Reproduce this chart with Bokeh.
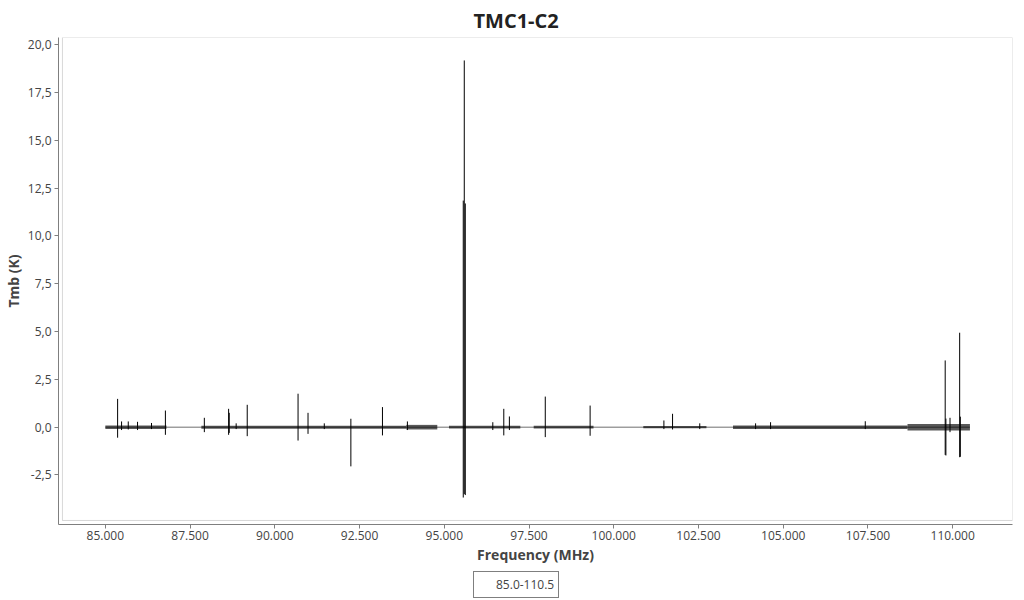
from bokeh.plotting import figure
from bokeh.layouts import column
from bokeh.models import (BoxAnnotation, FixedTicker, Range1d, Title, Legend, LegendItem)
from bokeh.embed import file_html
from bokeh.resources import INLINE

# ---------------- data ----------------
title_text = "TMC1-C2"
series_name = "85.0-110.5"

# observed frequency windows (MHz) and the typical noise envelope (K)
seg_start = [85000, 87833, 93880, 95139, 97638, 100872, 103519, 108667]
seg_end   = [86803, 93880, 94794, 97244, 99403, 102735, 108667, 110509]
seg_noise = [0.09, 0.08, 0.12, 0.07, 0.07, 0.06, 0.09, 0.17]

# spectral lines: frequency (MHz), peak (K), trough (K)
line_freq = [85362, 85479, 85676, 85950, 86362, 86772, 87921, 88637, 88655,
             88860, 89186, 90686, 90980, 91460, 92244, 93176, 93912,
             95560, 95590, 95620, 96432, 96756, 96921, 97980, 99303,
             101480, 101735, 102538, 104185, 104627, 107421,
             109779, 109800, 109921, 110206, 110226]
line_max  = [1.48, 0.30, 0.30, 0.28, 0.22, 0.87, 0.49, 0.96, 0.75,
             0.20, 1.17, 1.75, 0.75, 0.20, 0.44, 1.05, 0.30,
             11.85, 19.18, 11.70, 0.26, 0.96, 0.56, 1.60, 1.13,
             0.35, 0.70, 0.20, 0.20, 0.26, 0.31,
             3.49, 0.45, 0.49, 4.94, 0.55]
line_min  = [-0.55, -0.15, -0.12, -0.15, -0.10, -0.40, -0.26, -0.40, -0.30,
             -0.10, -0.47, -0.70, -0.35, -0.10, -2.05, -0.43, -0.15,
             -3.68, -3.50, -3.55, -0.15, -0.43, -0.15, -0.52, -0.45,
             -0.10, -0.12, -0.10, -0.10, -0.10, -0.10,
             -1.45, -1.48, -0.26, -1.57, -1.55]

x_ticks = [85000, 87500, 90000, 92500, 95000, 97500, 100000, 102500, 105000, 107500, 110000]
x_tick_labels = ["85.000", "87.500", "90.000", "92.500", "95.000", "97.500",
                 "100.000", "102.500", "105.000", "107.500", "110.000"]
y_ticks = [-2.5, 0, 2.5, 5, 7.5, 10, 12.5, 15, 17.5, 20]
y_tick_labels = ["-2,5", "0,0", "2,5", "5,0", "7,5", "10,0", "12,5", "15,0", "17,5", "20,0"]

# ---------------- styling ----------------
FONT = "Open Sans"
GRAY = "#7f7f7f"
TXT = "#444444"
LEG_H = 30

p = figure(width=1016, height=600 - LEG_H, output_backend="svg", toolbar_location=None,
           x_range=Range1d(83618, 111765), y_range=Range1d(-5.09, 20.38),
           min_border_left=55, min_border_right=4, min_border_top=37,
           min_border_bottom=76 - LEG_H, background_fill_color="white",
           border_fill_color="white")
p.title = Title(text=title_text, align="left", offset=415, text_font=FONT,
                text_font_size="20px", text_font_style="bold", text_color="#222222",
                standoff=8)
p.outline_line_color = None
p.xgrid.grid_line_color = None
p.ygrid.grid_line_color = None

# inner plot box (offset from the axis lines)
p.add_layout(BoxAnnotation(left=83735, bottom=-4.88, fill_color=None,
                           line_color=GRAY, line_width=1))

# baseline (trace across gaps)
base = p.line([min(seg_start), max(seg_end)], [0, 0], line_color="#6e6e6e", line_width=1)

# noise envelopes of the observed windows
p.quad(left=seg_start, right=seg_end, bottom=[-n for n in seg_noise], top=seg_noise,
       fill_color="black", fill_alpha=0.65, line_color=None)

# spectral lines
p.segment(x0=line_freq, y0=line_min, x1=line_freq, y1=line_max,
          line_color="black", line_width=1)

# axes
for ax in (p.xaxis[0], p.yaxis[0]):
    ax.axis_line_color = GRAY
    ax.axis_line_width = 1
    ax.major_tick_line_color = GRAY
    ax.major_tick_out = 4
    ax.major_tick_in = 0
    ax.minor_tick_line_color = None
    ax.major_label_text_font = FONT
    ax.major_label_text_font_size = "12px"
    ax.major_label_text_color = TXT
    ax.axis_label_text_font = FONT
    ax.axis_label_text_font_size = "14px"
    ax.axis_label_text_font_style = "bold"
    ax.axis_label_text_color = TXT
    ax.axis_label_standoff = 2

p.xaxis.ticker = FixedTicker(ticks=x_ticks)
p.xaxis.major_label_overrides = dict(zip(x_ticks, x_tick_labels))
p.xaxis.major_label_standoff = 2
p.xaxis.axis_label = "Frequency (MHz)"

p.yaxis.ticker = FixedTicker(ticks=y_ticks)
p.yaxis.major_label_overrides = dict(zip(y_ticks, y_tick_labels))
p.yaxis.major_label_standoff = 3
p.yaxis.axis_label = "Tmb (K)"

# ---------------- legend strip below the chart ----------------
lg = figure(width=1016, height=LEG_H, output_backend="svg", toolbar_location=None,
            x_range=Range1d(0, 1), y_range=Range1d(0, 1),
            x_axis_location=None, y_axis_location=None,
            min_border_left=55, min_border_right=4, min_border_top=0, min_border_bottom=0,
            background_fill_color="white", border_fill_color="white")
lg.title.visible = False
lg.outline_line_color = None
lg.xgrid.grid_line_color = None
lg.ygrid.grid_line_color = None
key = lg.line(x=[], y=[], line_color="#6e6e6e", line_width=1)
legend = Legend(items=[LegendItem(label=series_name, renderers=[key])],
                location=(415, 2), orientation="horizontal",
                border_line_color="black", border_line_width=1,
                background_fill_color="white", background_fill_alpha=1,
                label_text_font=FONT, label_text_font_size="12px", label_text_color=TXT,
                glyph_width=14, glyph_height=15, label_height=15, label_standoff=4,
                padding=4, margin=0, spacing=0)
lg.add_layout(legend, "center")

layout = column(p, lg, spacing=0)
open("out.html", "w").write(file_html(layout, INLINE))
